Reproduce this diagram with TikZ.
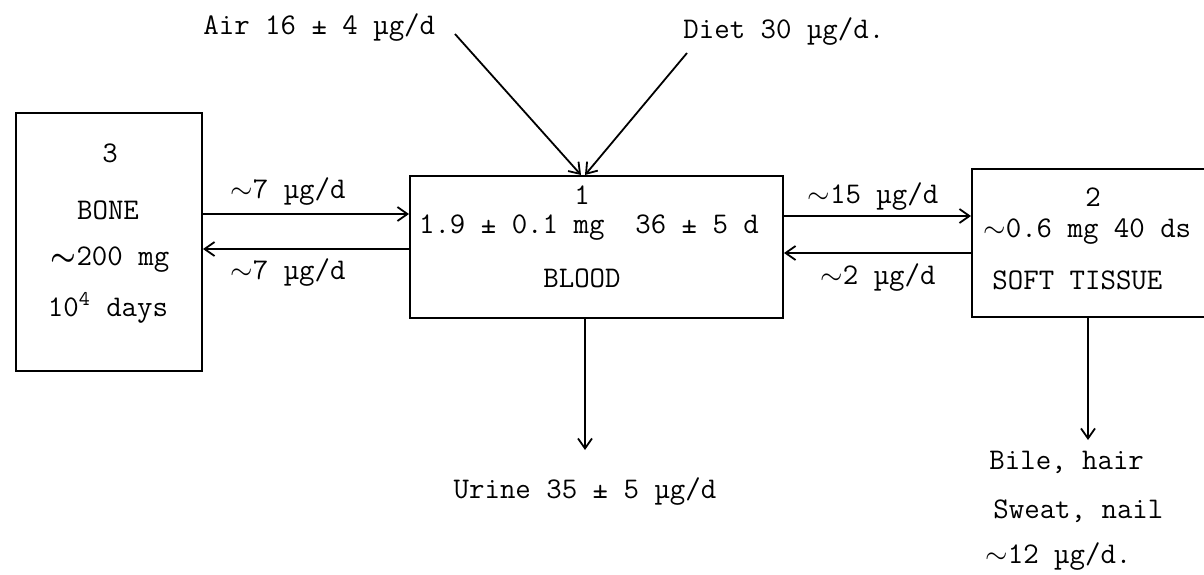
\documentclass[tikz,border=0pt]{standalone}
\usepackage{fontspec}
\usetikzlibrary{arrows.meta,calc}
\begin{document}
\begin{tikzpicture}[x=0.5pt,y=-0.5pt,
  box/.style={draw, line width=1pt, rectangle, inner sep=0pt, anchor=north west},
  txt/.style={inner sep=0pt, font=\fontsize{15}{18}\selectfont\ttfamily},
  flow/.style={line width=0.9pt, -{Straight Barb[length=5pt,width=7pt]}},
]
\useasboundingbox (0,0) rectangle (1204,574);

% compartments
\node[box, minimum width=93pt, minimum height=129pt] (bone) at (15,112) {};
\node[box, minimum width=186.5pt, minimum height=71pt] (blood) at (409,175) {};
\node[box, minimum width=122pt, minimum height=74pt] (soft) at (971,168) {};

% bone texts
\node[txt] (b3) at (110,153) {3};
\node[txt] (bname) at (108,210) {BONE};
\node[txt] (bmass) at (110,260) {{\boldmath$\sim$}200 mg};
\node[txt] (bdays) at (108,308) {10\textsuperscript{4} days};

% blood texts
\node[txt] (l1) at (582,195) {1};
\node[txt] (lmass) at (589,228) {1.9 ± 0.1 mg~ 36 ± 5 d};
\node[txt] (lname) at (582,278) {BLOOD};

% soft tissue texts
\node[txt] (s2) at (1093,197) {2};
\node[txt, anchor=west] (smass) at (983,232) {$\sim$0.6 mg 40 ds};
\node[txt, anchor=west] (sname) at (992,280) {SOFT TISSUE};

% inputs
\node[txt, anchor=west] (air) at (203,28) {Air 16 ± 4 µg/d};
\node[txt, anchor=west] (diet) at (683,32) {Diet 30 µg/d.};
\coordinate (airend) at (455,34);
\coordinate (dietend) at (687,53);
\draw[flow] (airend) -- ($(blood.north west)+(172,0)$);
\draw[flow] (dietend) -- ($(blood.north west)+(176,0)$);

% bone <-> blood
\draw[flow] (bone.east |- 0,214) -- (blood.west |- 0,214);
\draw[flow] (blood.west |- 0,249) -- (bone.east |- 0,249);
\node[txt] (k12) at (288,192) {$\sim$7 µg/d};
\node[txt] (k21) at (288,273) {$\sim$7 µg/d};

% blood <-> soft
\draw[flow] (blood.east |- 0,216) -- (soft.west |- 0,216);
\draw[flow] (soft.west |- 0,253) -- (blood.east |- 0,253);
\node[txt] (k13) at (873,197) {$\sim$15 µg/d};
\node[txt] (k31) at (878,278) {$\sim$2 µg/d};

% outputs
\coordinate (urineend) at (585,450);
\draw[flow] (blood.south -| urineend) -- (urineend);
\node[txt] (urine) at (585,492) {Urine 35 ± 5 µg/d};

\coordinate (bileend) at (1088,440);
\draw[flow] (soft.south -| bileend) -- (bileend);
\node[txt, anchor=west] (bile) at (989,462) {Bile, hair};
\node[txt, anchor=west] (sweat) at (993,511) {Sweat, nail};
\node[txt, anchor=west] (excr) at (985,557) {$\sim$12 µg/d.};
\end{tikzpicture}
\end{document}
